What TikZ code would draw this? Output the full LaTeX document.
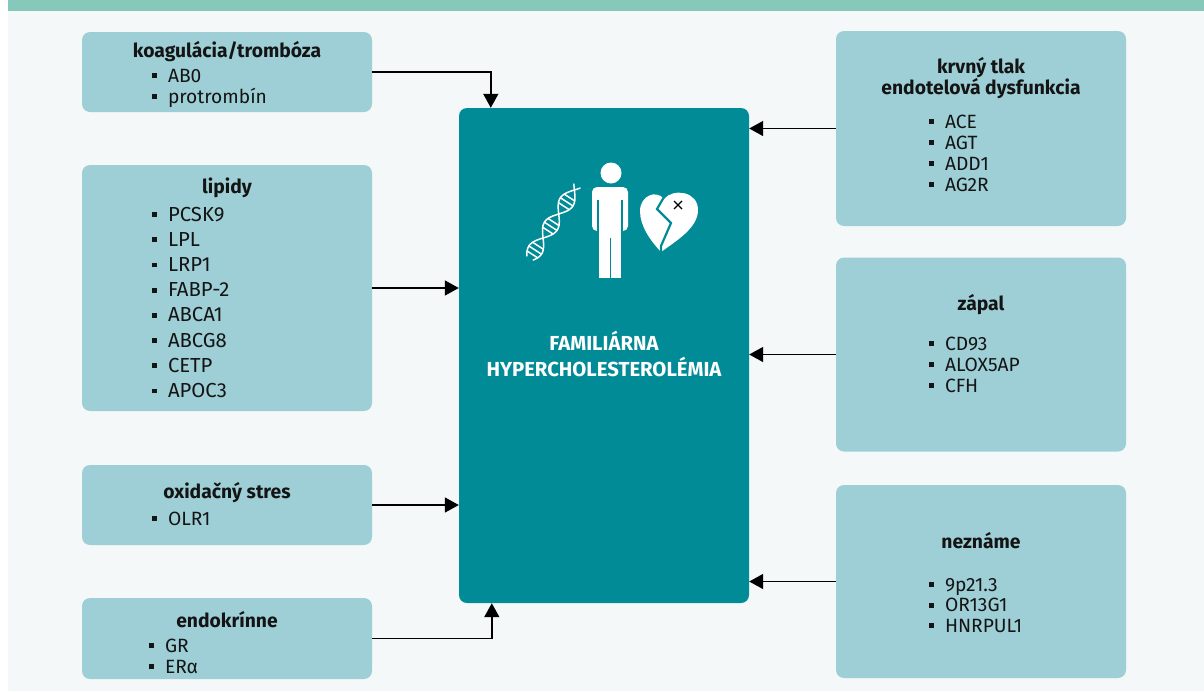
\documentclass[tikz,border=0pt]{standalone}
\usepackage{fontspec}
\setmainfont{Fira Sans}
\usetikzlibrary{arrows.meta}
\definecolor{bar}{HTML}{86C9BA}
\definecolor{bgc}{HTML}{F4F8F8}
\definecolor{grp}{HTML}{9ECFD6}
\definecolor{fhc}{HTML}{018B96}
\definecolor{ink}{HTML}{141414}
\newcommand{\gene}[1]{\raisebox{4pt}{\rule{4.8pt}{4.8pt}}\hspace{11pt}#1}

\begin{document}
\begin{tikzpicture}[x=1pt,y=-1pt,
  grpbox/.style={fill=grp, rounded corners=8pt, minimum width=290pt, inner sep=0pt},
  title/.style={font=\fontsize{19.3}{22}\selectfont\bfseries, text=ink, anchor=base, inner sep=0pt},
  gene/.style={font=\fontsize{19.2}{22}\selectfont, text=ink, anchor=base west, inner sep=0pt},
  link/.style={line width=1.5pt, -{Triangle[length=14pt,width=15pt]}},
  dna/.style={white, line width=1.5pt, line cap=round}]
  \useasboundingbox (0,0) rectangle (1204,691);
  \fill[white] (0,0) rectangle (1204,691);
  \fill[bgc] (8,11) rectangle (1204,691);
  \fill[bar] (8,0) rectangle (1204,11);

  \node[fill=fhc, rounded corners=8pt, minimum width=290pt, minimum height=495pt] (fh) at (604,355.5) {};
  \node[font=\fontsize{20.3}{26}\selectfont\bfseries, text=white, align=center] (fhtext) at (604,354) {FAMILIÁRNA\\HYPERCHOLESTEROLÉMIA};

  \node[grpbox, minimum height=80pt] (coag) at (227,72) {};
  \node[grpbox, minimum height=246pt] (lip) at (227,288) {};
  \node[grpbox, minimum height=80pt] (oxid) at (227,505) {};
  \node[grpbox, minimum height=81pt] (endo) at (227,638.5) {};
  \node[grpbox, minimum height=195pt] (krv) at (981,128.5) {};
  \node[grpbox, minimum height=194pt] (zap) at (981,354.5) {};
  \node[grpbox, minimum height=193pt] (nez) at (981,581.5) {};

  \node[title] (coagtitle) at (227,57) {koagulácia/trombóza};
  \node[title] (liptitle) at (227,193) {lipidy};
  \node[title] (oxidtitle) at (227,498) {oxidačný stres};
  \node[title] (endotitle) at (227,627) {endokrínne};
  \node[title] (krvtitle) at (981,73) {krvný tlak};
  \node[title] (krvtitleb) at (981,94) {endotelová dysfunkcia};
  \node[title] (zaptitle) at (981,310) {zápal};
  \node[title] (neztitle) at (981,548) {neznáme};

  \foreach \g [count=\i] in {AB0,protrombín}
    \node[gene] (coag\i) at (152,61+21*\i) {\gene{\g}};
  \foreach \g [count=\i] in {PCSK9,LPL,LRP1,FABP-2,ABCA1,ABCG8,CETP,APOC3}
    \node[gene, font=\fontsize{20.3}{22}\selectfont] (lip\i) at (152,195.8+25.2*\i) {\gene{\g}};
  \node[gene] (oxid1) at (152,525) {\gene{OLR1}};
  \foreach \g [count=\i] in {GR,ERα}
    \node[gene] (endo\i) at (149,631+21*\i) {\gene{\g}};
  \foreach \g [count=\i] in {ACE,AGT,ADD1,AG2R}
    \node[gene] (krv\i) at (929,107+21*\i) {\gene{\g}};
  \foreach \g [count=\i] in {CD93,ALOX5AP,CFH}
    \node[gene] (zap\i) at (929,329+21*\i) {\gene{\g}};
  \foreach \g [count=\i] in {9p21.3,OR13G1,HNRPUL1}
    \node[gene] (nez\i) at (929,570.5+20.5*\i) {\gene{\g}};

  \draw[link] (coag.east) -| ([xshift=32pt]fh.north west);
  \draw[link] (lip.east) -- (lip.east -| fh.west);
  \draw[link] (oxid.east) -- (oxid.east -| fh.west);
  \draw[link] (endo.east) -| ([xshift=33pt]fh.south west);
  \draw[link] (krv.west) -- (krv.west -| fh.east);
  \draw[link] (zap.west) -- (zap.west -| fh.east);
  \draw[link] (nez.west) -- (nez.west -| fh.east);

  \draw[dna] plot[domain=0:1, samples=60, variable=\t]
    ({530+47*\t+7.5*0.837*sin(540*\t+30)}, {258-72*\t+7.5*0.547*sin(540*\t+30)});
  \draw[dna] plot[domain=0:1, samples=60, variable=\t]
    ({530+47*\t-7.5*0.837*sin(540*\t+30)}, {258-72*\t-7.5*0.547*sin(540*\t+30)});
  \foreach \t in {0.05,0.11,0.17,0.38,0.44,0.50,0.72,0.78,0.84}
    \draw[dna] ({530+47*\t+7.5*0.837*sin(540*\t+30)}, {258-72*\t+7.5*0.547*sin(540*\t+30)})
      -- ({530+47*\t-7.5*0.837*sin(540*\t+30)}, {258-72*\t-7.5*0.547*sin(540*\t+30)});

  \fill[white] (611,173) circle (10.5);
  \fill[white, rounded corners=5pt] (592,231) -- (592,187) -- (628,187) -- (628,231) -- cycle;
  \fill[white] (599,225) rectangle (621,278);
  \draw[fhc, line width=1.6pt] (598,200) -- (598,232) (622,200) -- (622,232) (610.5,238) -- (610.5,279);

  \fill[white] (661,252) .. controls (650,240) and (640,226) .. (640,211)
    .. controls (640,196) and (656,189) .. (664,199)
    .. controls (673,188) and (698,191) .. (698,210)
    .. controls (698,228) and (676,241) .. (661,252);
  \draw[fhc, line width=2.2pt, line join=miter] (664,197) -- (657,209) -- (671,223) -- (661,246) -- (661,253);
  \draw[black, line width=1.3pt] (674,201) -- (682,209) (674,209) -- (682,201);
\end{tikzpicture}
\end{document}
